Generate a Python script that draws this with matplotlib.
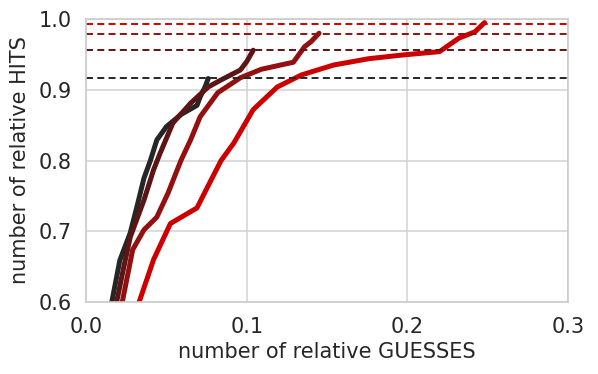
import numpy as np
import matplotlib
matplotlib.use('Agg')
from matplotlib import pyplot as plt
import seaborn as sns

# relative guesses / relative hits
guesses_a = [0.016, 0.021, 0.0275, 0.032, 0.036, 0.040, 0.044, 0.050, 0.059,
             0.069, 0.071, 0.074, 0.076]
hits_a = [0.600, 0.659, 0.698, 0.738, 0.775, 0.800, 0.829, 0.848, 0.865,
          0.878, 0.890, 0.904, 0.916]

guesses_b = [0.019, 0.0235, 0.0275, 0.036, 0.042, 0.046, 0.054, 0.065, 0.076,
             0.084, 0.096, 0.100, 0.104]
hits_b = [0.600, 0.650, 0.692, 0.744, 0.787, 0.810, 0.853, 0.881, 0.904,
          0.914, 0.928, 0.940, 0.956]

guesses_c = [0.0225, 0.029, 0.036, 0.044, 0.051, 0.059, 0.065, 0.071, 0.082,
             0.096, 0.109, 0.129, 0.136, 0.140, 0.145]
hits_c = [0.600, 0.674, 0.702, 0.720, 0.754, 0.800, 0.829, 0.862, 0.896,
          0.917, 0.929, 0.939, 0.961, 0.968, 0.980]

guesses_d = [0.033, 0.042, 0.0525, 0.069, 0.075, 0.084, 0.092, 0.104, 0.119,
             0.134, 0.154, 0.176, 0.196, 0.220, 0.232, 0.242, 0.248]
hits_d = [0.600, 0.660, 0.711, 0.733, 0.760, 0.800, 0.825, 0.872, 0.904,
          0.921, 0.935, 0.944, 0.949, 0.954, 0.973, 0.982, 0.995]

final_hits = [0.916, 0.956, 0.979, 0.993]
colors = ['#262626', '#5c1414', '#940f0f', '#cc0000']

sns.set_style('whitegrid')
plt.rcParams['font.family'] = ['DejaVu Sans']

fig, ax = plt.subplots(figsize=(5.98, 3.74), dpi=100)
curves = [(guesses_a, hits_a), (guesses_b, hits_b),
          (guesses_c, hits_c), (guesses_d, hits_d)]
for (g, h), c in zip(curves, colors):
    ax.plot(g, h, color=c, linewidth=3.6, solid_capstyle='round',
            solid_joinstyle='round')
for y, c in zip(final_hits, colors):
    ax.axhline(y, color=c, linestyle='--', linewidth=1.4, dashes=(3.6, 2.2))

ax.set_xlim(0.0, 0.3)
ax.set_ylim(0.6, 1.0)
ax.set_xticks([0.0, 0.1, 0.2, 0.3])
ax.set_yticks([0.6, 0.7, 0.8, 0.9, 1.0])
ax.tick_params(labelsize=15, colors='#262626', pad=7)
ax.set_xlabel('number of relative GUESSES', fontsize=15, color='#262626',
              labelpad=4)
ax.set_ylabel('number of relative HITS', fontsize=15, color='#262626',
              labelpad=6)
for s in ax.spines.values():
    s.set_color('#cccccc')
    s.set_linewidth(1.2)
ax.grid(color='#d5d5d5', linewidth=1.2)

fig.subplots_adjust(left=0.144, right=0.950, top=0.949, bottom=0.1925)
fig.savefig('out.png')
